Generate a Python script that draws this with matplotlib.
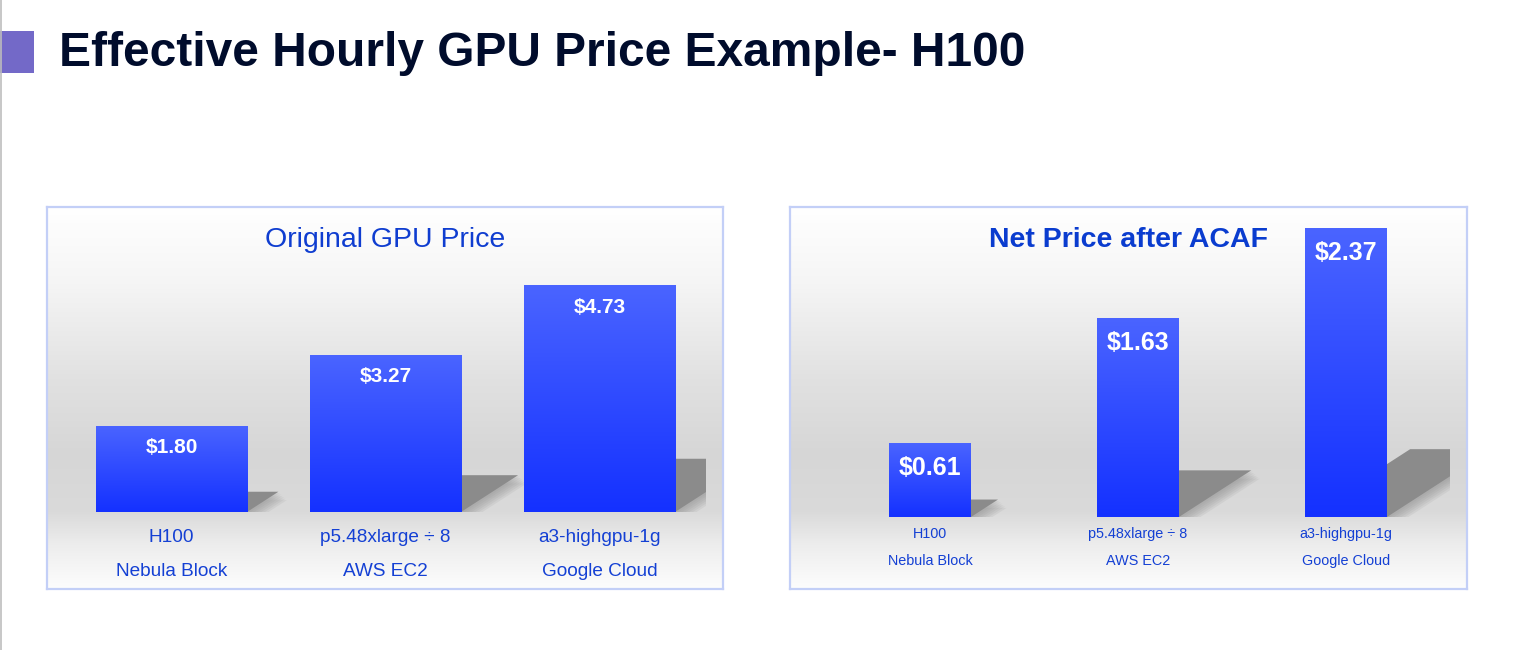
import numpy as np
import matplotlib.pyplot as plt
from matplotlib.patches import Rectangle, Polygon
from matplotlib.lines import Line2D
from matplotlib.colors import LinearSegmentedColormap

plt.rcParams['font.family'] = ['Liberation Sans', 'DejaVu Sans']

W, H = 1540, 650

# data
title = "Effective Hourly GPU Price Example- H100"
models = ["H100", "p5.48xlarge \u00f7 8", "a3-highgpu-1g"]
providers = ["Nebula Block", "AWS EC2", "Google Cloud"]
original_price = [1.80, 3.27, 4.73]
net_price = [0.61, 1.63, 2.37]

bar_cmap = LinearSegmentedColormap.from_list("bar", ["#1431ff", "#4a64ff"])
text_blue = "#1440d4"


def px_axes(fig, x0, y0, x1, y1):
    # pixel box (top-left origin) -> figure axes
    return fig.add_axes([x0 / W, 1 - y1 / H, (x1 - x0) / W, (y1 - y0) / H])


def panel_background(fig, box):
    ax = px_axes(fig, *box)
    stops = [0, .2, .45, .65, .8, .88, 1]
    vals = [255, 245, 225, 214, 218, 236, 253]
    t = np.linspace(0, 1, 300)
    g = (np.interp(t, stops, vals) / 255.0).reshape(-1, 1)
    img = np.dstack([g, g, g])
    ax.imshow(img, extent=(0, 1, 0, 1), aspect='auto', origin='upper')
    ax.set_xlim(0, 1)
    ax.set_ylim(0, 1)
    ax.set_xticks([])
    ax.set_yticks([])
    for s in ax.spines.values():
        s.set_color("#c3cff7")
        s.set_linewidth(1.6)
    return ax


def bar_panel(fig, plot, values, ppu, width, value_size, value_off,
              label_size, line_offs):
    x0, x1, top, base = plot
    ax = px_axes(fig, x0, top, x1, base)
    ax.patch.set_alpha(0)
    ymax = (base - top) / ppu
    px_per_x = (x1 - x0) / 3.0
    xs = np.arange(len(values))
    bars = ax.bar(xs, values, width, color='none', zorder=3)
    grad = np.linspace(0, 1, 200).reshape(-1, 1)
    for i, (b, v) in enumerate(zip(bars, values)):
        xl, xr = b.get_x(), b.get_x() + b.get_width()
        im = ax.imshow(grad, cmap=bar_cmap, extent=(xl, xr, 0, v),
                       aspect='auto', origin='lower', zorder=3)
        im.set_clip_path(b)
        # floor shadow behind the bar
        dy = 0.235 * v
        dx = 1.55 * dy * ppu / px_per_x
        for k in range(6, 0, -1):
            sx = k * 1.4 / px_per_x
            sy = k * 1.4 / ppu
            ax.add_patch(Polygon([(xl + sx, -sy), (xr + sx, -sy),
                                  (xr + dx + sx, dy - sy), (xl + dx + sx, dy - sy)],
                                 closed=True, facecolor="#8c8c8c", edgecolor='none',
                                 alpha=0.13, zorder=2))
        ax.add_patch(Polygon([(xl, 0), (xr, 0), (xr + dx, dy), (xl + dx, dy)],
                             closed=True, facecolor="#8b8b8b", edgecolor='none',
                             zorder=2))
        ax.annotate(f"${v:.2f}", xy=(i, v), xytext=(0, -value_off),
                    textcoords='offset points', ha='center', va='baseline',
                    color='white', fontweight='bold', fontsize=value_size,
                    zorder=5)
        ax.annotate(models[i], xy=(i, 0), xytext=(0, -line_offs[0]),
                    textcoords='offset points', ha='center', va='baseline',
                    color=text_blue, fontsize=label_size, annotation_clip=False)
        ax.annotate(providers[i], xy=(i, 0), xytext=(0, -line_offs[1]),
                    textcoords='offset points', ha='center', va='baseline',
                    color=text_blue, fontsize=label_size, annotation_clip=False)
    ax.set_xlim(-0.5, 2.5)
    ax.set_ylim(0, ymax)
    ax.axis('off')
    return ax


fig = plt.figure(figsize=(W / 100, H / 100), dpi=100)
fig.patch.set_facecolor('white')

# slide decorations
fig.add_artist(Rectangle((0, 1 - 73 / H), 34 / W, 42 / H, transform=fig.transFigure,
                         facecolor="#7369c8", edgecolor='none'))
fig.add_artist(Line2D([0.6 / W, 0.6 / W], [0, 1], transform=fig.transFigure,
                      color="#bdbdbd", lw=1.2))
fig.text(59 / W, 1 - 66 / H, title, fontsize=34.5, fontweight='bold',
         color="#000c2c", ha='left', va='baseline')

# left panel
panel_background(fig, (47, 207, 723, 589))
bar_panel(fig, (64.5, 706.5, 207, 512), original_price, 47.9, 0.706,
          15, 19.5, 13.7, (21.6, 46))
fig.text(385 / W, 1 - 247 / H, "Original GPU Price", fontsize=20.5,
         color="#0f3dd0", ha='center', va='baseline')

# right panel
panel_background(fig, (790, 207, 1467, 589))
bar_panel(fig, (826, 1450, 207, 517), net_price, 121.8, 0.394,
          18, 23, 10.4, (15, 34.6))
fig.text(1128.5 / W, 1 - 247 / H, "Net Price after ACAF", fontsize=20.5,
         fontweight='bold', color="#0a3ccf", ha='center', va='baseline')

fig.savefig("out.png", dpi=100)
